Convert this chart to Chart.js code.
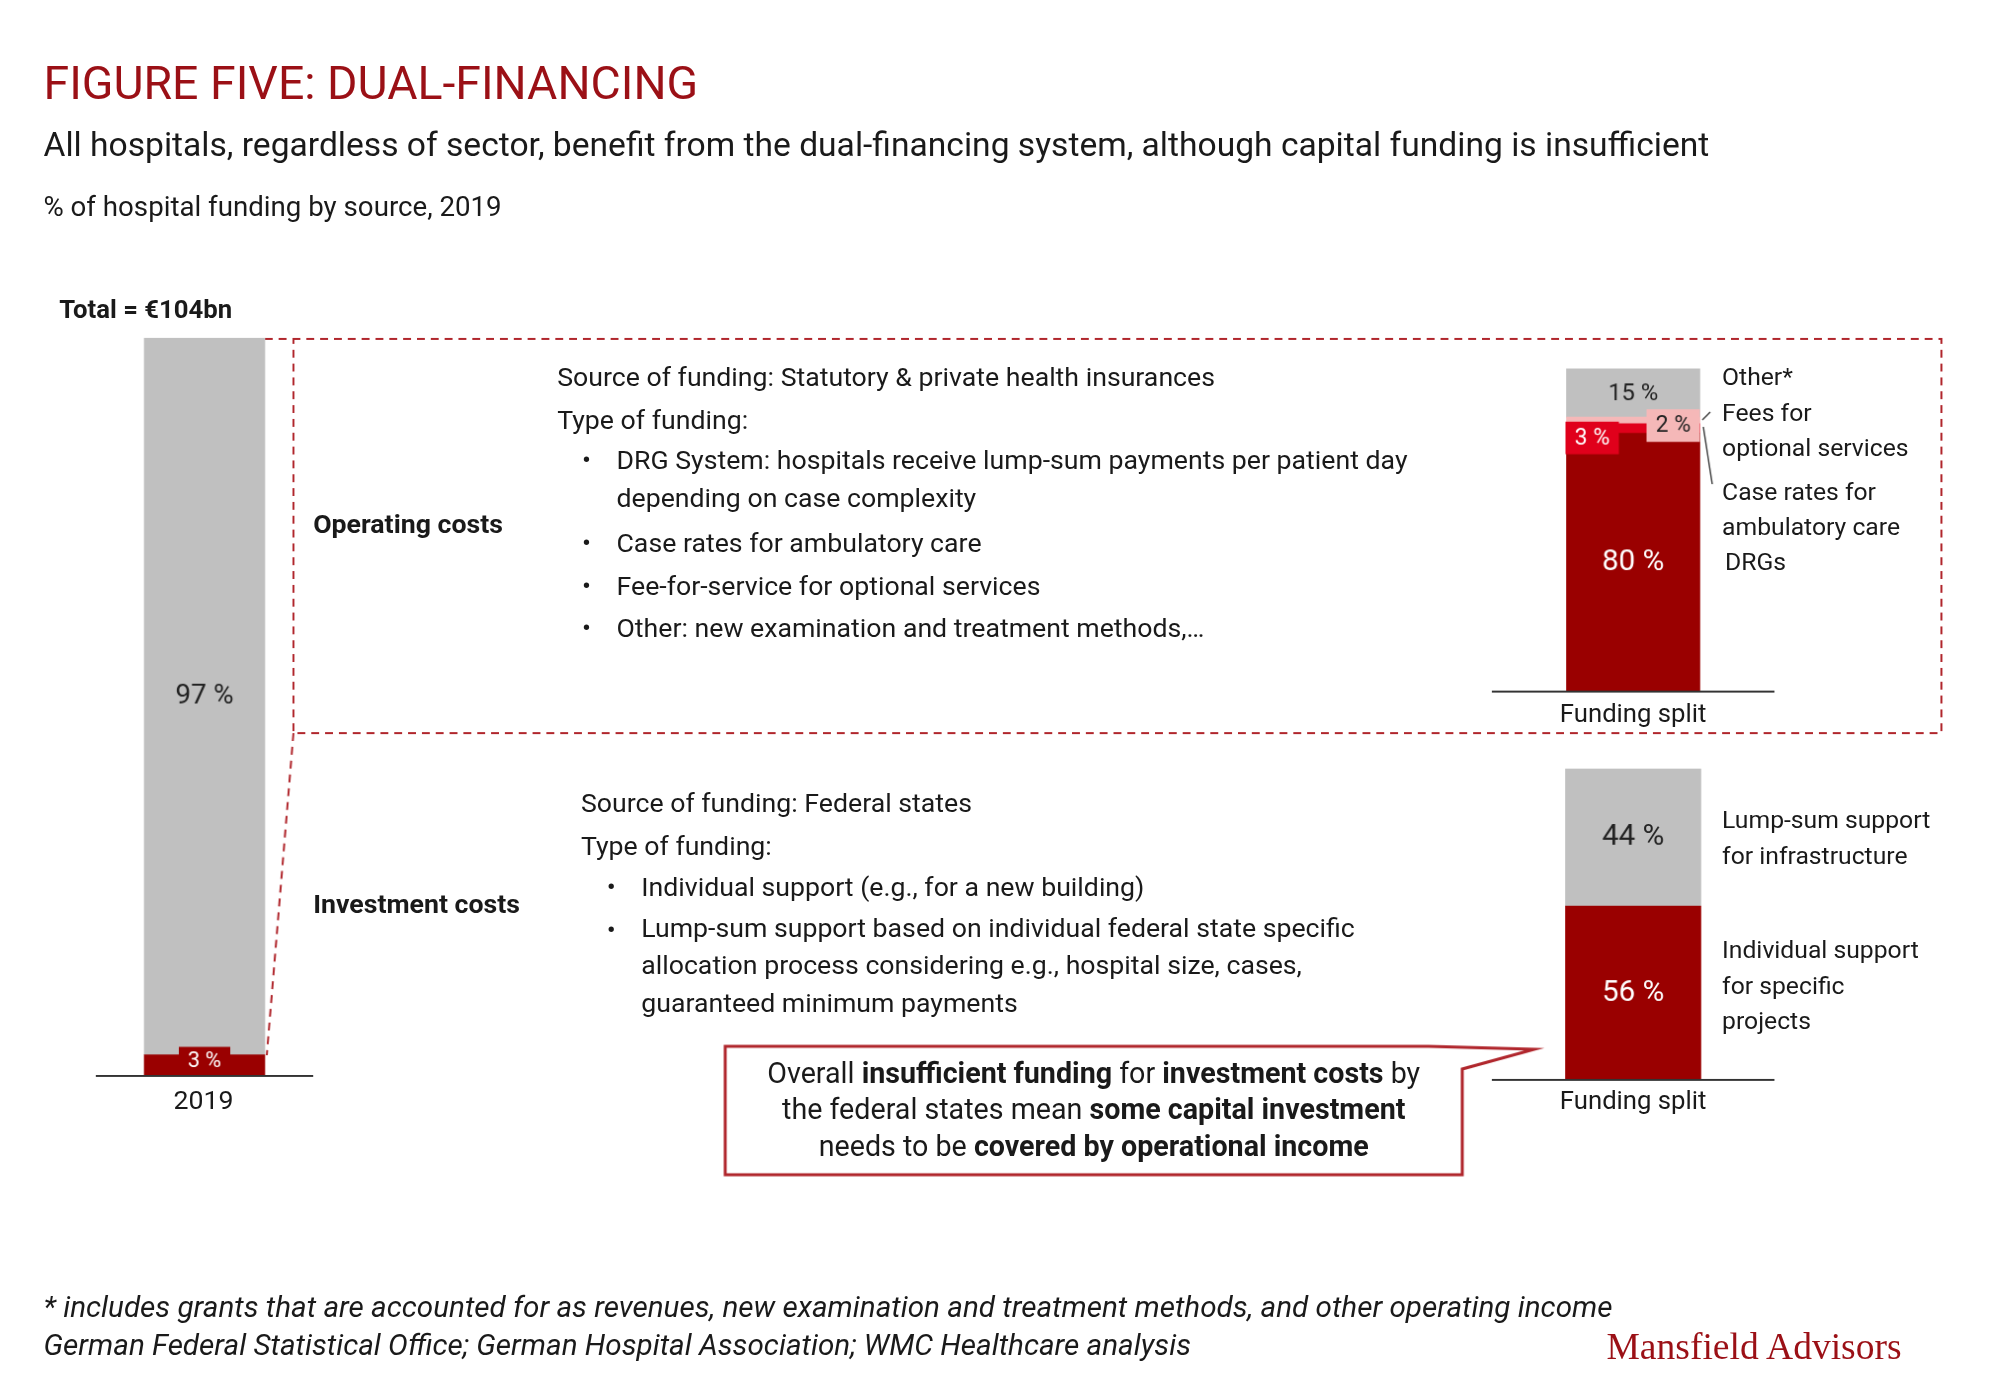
<!DOCTYPE html>
<html><head><meta charset="utf-8">
<script src="https://cdn.jsdelivr.net/npm/chart.js@4"></script>
<style>
body{margin:0;width:2000px;height:1385px;background:#fff;overflow:hidden}
#wrap{position:absolute;left:0;top:0;width:2000px;height:1385px;transform:scale(0.988);transform-origin:0 0;font-family:Roboto,"Open Sans",sans-serif;color:#1a1a1a}
.t{position:absolute;white-space:nowrap}
canvas{position:absolute}
#ov{position:absolute;left:0;top:0}
</style></head><body><div id="wrap">
<div class="t" style="left:44px;top:56px;font-size:47px;color:#9b1016">FIGURE FIVE: DUAL-FINANCING</div>
<div class="t" style="left:44px;top:126px;font-size:34px">All hospitals, regardless of sector, benefit from the dual-financing system, although capital funding is insufficient</div>
<div class="t" style="left:44px;top:193px;font-size:28px">% of hospital funding by source, 2019</div>
<div class="t" style="left:60px;top:298px;font-size:26px;font-weight:bold">Total = €104bn</div>
<div class="t" style="left:0;width:412px;text-align:center;top:1097px;font-size:27px">2019</div>
<div class="t" style="left:317px;top:514px;font-size:27px;font-weight:bold">Operating costs</div>
<div class="t" style="left:317px;top:899px;font-size:27px;font-weight:bold">Investment costs</div>

<div class="t" style="left:564px;top:361px;font-size:27px;line-height:43px">Source of funding: Statutory &amp; private health insurances<br>Type of funding:</div>
<div class="t" style="left:589px;top:447px;font-size:27px;line-height:38px">•</div>
<div class="t" style="left:624px;top:447px;font-size:27px;line-height:38px">DRG System: hospitals receive lump-sum payments per patient day<br>depending on case complexity</div>
<div class="t" style="left:589px;top:529px;font-size:27px;line-height:43px">•<br>•<br>•</div>
<div class="t" style="left:624px;top:529px;font-size:27px;line-height:43px">Case rates for ambulatory care<br>Fee-for-service for optional services<br>Other: new examination and treatment methods,…</div>

<div class="t" style="left:588px;top:792px;font-size:27px;line-height:43px">Source of funding: Federal states<br>Type of funding:</div>
<div class="t" style="left:614px;top:877px;font-size:27px;line-height:43px">•<br>•</div>
<div class="t" style="left:649px;top:877px;font-size:27px;line-height:43px">Individual support (e.g., for a new building)</div>
<div class="t" style="left:649px;top:920px;font-size:27px;line-height:38px">Lump-sum support based on individual federal state specific<br>allocation process considering e.g., hospital size, cases,<br>guaranteed minimum payments</div>

<div class="t" style="left:1743px;top:364px;font-size:25px;line-height:36px">Other*<br>Fees for<br>optional services</div>
<div class="t" style="left:1743px;top:480px;font-size:25px;line-height:36px">Case rates for<br>ambulatory care</div>
<div class="t" style="left:1746px;top:554px;font-size:25px">DRGs</div>
<div class="t" style="left:1510px;width:286px;text-align:center;top:707px;font-size:26px">Funding split</div>

<div class="t" style="left:1743px;top:812px;font-size:25px;line-height:36px">Lump-sum support<br>for infrastructure</div>
<div class="t" style="left:1743px;top:944px;font-size:25px;line-height:36px">Individual support<br>for specific<br>projects</div>
<div class="t" style="left:1510px;width:286px;text-align:center;top:1098px;font-size:26px">Funding split</div>

<div class="t" style="left:734px;width:746px;text-align:center;top:1068px;font-size:29px;line-height:37px;z-index:3">Overall <b>insufficient funding</b> for <b>investment costs</b> by<br>the federal states mean <b>some capital investment</b><br>needs to be <b>covered by operational income</b></div>

<div class="t" style="left:44px;top:1305px;font-size:30px;font-style:italic">* includes grants that are accounted for as revenues, new examination and treatment methods, and other operating income</div>
<div class="t" style="left:44px;top:1343px;font-size:30px;font-style:italic">German Federal Statistical Office; German Hospital Association; WMC Healthcare analysis</div>
<div class="t" style="left:1626px;top:1340px;font-size:38px;color:#9b1016;font-family:'Liberation Serif','DejaVu Serif',serif">Mansfield Advisors</div>

<canvas id="ov" width="2000" height="1385"></canvas>
<canvas id="c1" width="220" height="748" style="left:97px;top:342px"></canvas>
<canvas id="c2" width="286" height="328" style="left:1510px;top:373px"></canvas>
<canvas id="c3" width="286" height="316" style="left:1510px;top:778px"></canvas>
</div>
<script>
const DARK = '#9a0000', RED = '#e0001b', PINK = '#f5b8b8', GRAY = '#c0c0c0';

// left bar: total 2019
const totalCats = ['2019'];
const totalInvest = [3];
const totalOperating = [97];

// operating costs split
const splitCats = ['Funding split'];
const opDRG = [80];
const opCaseRates = [3];
const opFees = [2];
const opOther = [15];

// investment costs split
const invIndividual = [56];
const invLumpSum = [44];

function barChart(id, cats, datasets, labelFn) {
    new Chart(document.getElementById(id), {
        type: 'bar',
        data: { labels: cats, datasets: datasets },
        options: {
            responsive: false, animation: false,
            layout: { padding: 0 },
            plugins: { legend: { display: false }, tooltip: { enabled: false } },
            scales: {
                x: { stacked: true, display: false },
                y: { stacked: true, display: false, min: 0, max: 100 }
            }
        },
        plugins: [{
            id: 'lbl',
            afterDatasetsDraw(chart) {
                const ctx = chart.ctx;
                ctx.save();
                ctx.strokeStyle = '#333'; ctx.lineWidth = 2;
                ctx.beginPath();
                ctx.moveTo(0, chart.height - 1); ctx.lineTo(chart.width, chart.height - 1);
                ctx.stroke();
                ctx.textAlign = 'center'; ctx.textBaseline = 'middle';
                labelFn(chart, ctx);
                ctx.restore();
            }
        }]
    });
}
function seg(chart, i) { return chart.getDatasetMeta(i).data[0]; }
function box(ctx, x, y, w, h, fill, txt, col, size) {
    ctx.fillStyle = fill; ctx.fillRect(x, y, w, h);
    ctx.fillStyle = col; ctx.font = size + 'px Roboto';
    ctx.fillText(txt, x + w / 2, y + h / 2 + 1);
}

barChart('c1', totalCats, [
    { data: totalInvest, backgroundColor: DARK, barThickness: 122 },
    { data: totalOperating, backgroundColor: GRAY, barThickness: 122 }
], (chart, ctx) => {
    const a = seg(chart, 0), b = seg(chart, 1);
    box(ctx, a.x - 26, a.y - 8, 52, 28, DARK, totalInvest[0] + ' %', '#fff', 22);
    ctx.fillStyle = '#222'; ctx.font = '28px Roboto';
    ctx.fillText(totalOperating[0] + ' %', b.x, (b.y + b.base) / 2);
});

barChart('c2', splitCats, [
    { data: opDRG, backgroundColor: DARK, barThickness: 135 },
    { data: opCaseRates, backgroundColor: RED, barThickness: 135 },
    { data: opFees, backgroundColor: PINK, barThickness: 135 },
    { data: opOther, backgroundColor: GRAY, barThickness: 135 }
], (chart, ctx) => {
    const d = seg(chart, 0), c = seg(chart, 1), f = seg(chart, 2), o = seg(chart, 3);
    const l = d.x - d.width / 2, r = d.x + d.width / 2;
    ctx.fillStyle = '#222'; ctx.font = '24px Roboto';
    ctx.fillText(opOther[0] + ' %', o.x, o.y + 26);
    box(ctx, r - 54, f.y - 8, 54, 33, PINK, opFees[0] + ' %', '#222', 23);
    box(ctx, l - 1, c.y - 2, 54, 33, RED, opCaseRates[0] + ' %', '#fff', 23);
    ctx.fillStyle = '#fff'; ctx.font = '30px Roboto';
    ctx.fillText(opDRG[0] + ' %', d.x, (d.y + d.base) / 2);
});

barChart('c3', splitCats, [
    { data: invIndividual, backgroundColor: DARK, barThickness: 137 },
    { data: invLumpSum, backgroundColor: GRAY, barThickness: 137 }
], (chart, ctx) => {
    const a = seg(chart, 0), b = seg(chart, 1);
    ctx.font = '30px Roboto';
    ctx.fillStyle = '#fff'; ctx.fillText(invIndividual[0] + ' %', a.x, (a.y + a.base) / 2);
    ctx.fillStyle = '#222'; ctx.fillText(invLumpSum[0] + ' %', b.x, (b.y + b.base) / 2);
});

// overlay: dashed boxes, connectors, callout
const o = document.getElementById('ov').getContext('2d');
o.strokeStyle = '#b0262c'; o.lineWidth = 2; o.setLineDash([8, 6]);
o.beginPath();
o.moveTo(268, 343); o.lineTo(1965, 343); o.lineTo(1965, 742); o.lineTo(297, 742); o.lineTo(297, 343);
o.moveTo(297, 742); o.lineTo(270, 1068);
o.stroke();
o.setLineDash([]);
o.strokeStyle = '#444'; o.lineWidth = 1.5;
o.beginPath();
o.moveTo(1723, 425); o.lineTo(1731, 417);
o.moveTo(1724, 432); o.lineTo(1733, 490);
o.stroke();
o.fillStyle = '#fff'; o.strokeStyle = '#b0262c'; o.lineWidth = 3;
o.beginPath();
o.moveTo(734, 1059); o.lineTo(1446, 1059); o.lineTo(1553, 1062); o.lineTo(1480, 1082);
o.lineTo(1480, 1189); o.lineTo(734, 1189); o.closePath();
o.fill(); o.stroke();
</script>
</body></html>
